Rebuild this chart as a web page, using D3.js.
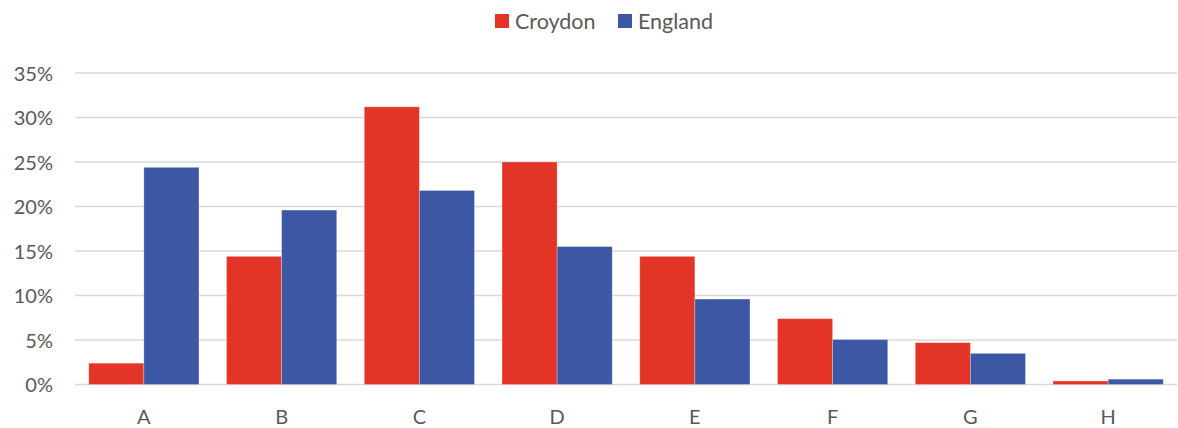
<!DOCTYPE html>
<html>
<head>
<meta charset="utf-8">
<script src="https://cdn.jsdelivr.net/npm/d3@7"></script>
<style>
body { margin: 0; background: #fff; }
text { font-family: Lato, "Open Sans", sans-serif; fill: #595959; }
</style>
</head>
<body>
<div id="chart"></div>
<script>
// data
let categories = ['A', 'B', 'C', 'D', 'E', 'F', 'G', 'H']
let seriesNames = ['Croydon', 'England']
let croydon = [2.4, 14.4, 31.2, 25.0, 14.4, 7.4, 4.7, 0.4]
let england = [24.4, 19.6, 21.8, 15.5, 9.6, 5.05, 3.5, 0.6]
let yTicks = [0, 5, 10, 15, 20, 25, 30, 35]
let colors = ['#e33527', '#3c57a4']

let size = { width: 1178, height: 428, left: 75, right: 1177, top: 73, bottom: 384.5 }

let svg = d3.select('#chart')
  .append('svg')
  .attr('width', size.width)
  .attr('height', size.height)

let xScale = d3.scaleBand()
  .domain(categories)
  .range([size.left, size.right])
  .paddingInner(0.2)
  .paddingOuter(0.1)
let xSub = d3.scaleBand()
  .domain(seriesNames)
  .range([0, xScale.bandwidth()])
let yScale = d3.scaleLinear()
  .domain([0, 35])
  .range([size.bottom, size.top])

// gridlines
svg.append('g')
  .selectAll('line')
  .data(yTicks)
  .join('line')
  .attr('x1', size.left)
  .attr('x2', size.right)
  .attr('y1', d => yScale(d))
  .attr('y2', d => yScale(d))
  .attr('stroke', '#d9d9d9')
  .attr('stroke-width', 1.3)

// y axis labels
let yAxis = d3.axisLeft(yScale).tickValues(yTicks).tickFormat(d => d + '%').tickSize(0).tickPadding(0)
let gY = svg.append('g')
  .attr('transform', `translate(${size.left - 22},0)`)
  .call(yAxis)
gY.select('.domain').remove()
gY.selectAll('text').attr('font-size', 20).attr('dy', '0.35em')

// x axis labels
let xAxis = d3.axisBottom(xScale).tickSize(0).tickPadding(0)
let gX = svg.append('g')
  .attr('transform', `translate(0,${size.bottom + 32})`)
  .call(xAxis)
gX.select('.domain').remove()
gX.selectAll('text').attr('font-size', 20).attr('dy', '0.35em')

// bars
let rows = categories.map((c, i) => ({ cat: c, vals: [croydon[i], england[i]] }))
svg.append('g')
  .selectAll('g')
  .data(rows)
  .join('g')
  .attr('transform', d => `translate(${xScale(d.cat)},0)`)
  .selectAll('rect')
  .data(d => d.vals.map((v, j) => ({ name: seriesNames[j], v: v, j: j })))
  .join('rect')
  .attr('x', d => xSub(d.name))
  .attr('width', xSub.bandwidth())
  .attr('y', d => yScale(d.v))
  .attr('height', d => yScale(0) - yScale(d.v))
  .attr('fill', d => colors[d.j])
  .attr('stroke', '#fff')
  .attr('stroke-opacity', 0.35)
  .attr('stroke-width', 0.8)

// legend
let legendX = [495, 618]
let legend = svg.append('g')
  .selectAll('g')
  .data(seriesNames)
  .join('g')
  .attr('transform', (d, i) => `translate(${legendX[i]},14)`)
legend.append('rect')
  .attr('width', 14)
  .attr('height', 14)
  .attr('fill', (d, i) => colors[i])
legend.append('text')
  .attr('x', 20)
  .attr('y', 7)
  .attr('dy', '0.36em')
  .attr('font-size', 21.5)
  .text(d => d)
</script>
</body>
</html>
